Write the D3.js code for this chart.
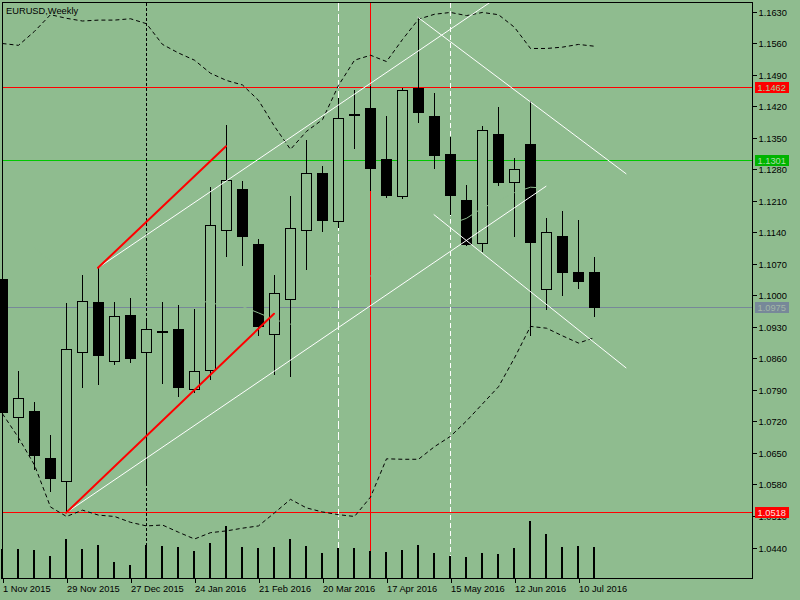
<!DOCTYPE html>
<html><head><meta charset="utf-8">
<script src="https://cdn.jsdelivr.net/npm/d3@7"></script>
<style>
html,body{margin:0;padding:0;background:#8FBC8F;}
svg{display:block;}
text{font-family:"Liberation Sans",Arial,sans-serif;font-size:9.3px;fill:#000;}
</style>
</head><body>
<svg id="chart" width="800" height="600"></svg>
<script>
// ---------- DATA ----------
const symbolTitle = "EURUSD,Weekly";
const firstWeek = "2015-11-01";
const opens  = [1.1036,1.0730,1.0742,1.0639,1.0588,1.0873,1.0985,1.0855,1.0956,1.0873,1.0920,1.0926,1.0793,1.0833,1.1144,1.1236,1.1114,1.0915,1.0991,1.1145,1.1271,1.1164,1.1403,1.1416,1.1302,1.1220,1.1460,1.1398,1.1314,1.1211,1.1115,1.1358,1.1251,1.1336,1.1013,1.1131,1.1051,1.1051];
const highs  = [1.1045,1.0831,1.0764,1.0689,1.0982,1.1044,1.1062,1.0985,1.0993,1.0947,1.0986,1.0978,1.0969,1.1240,1.1378,1.1254,1.1126,1.1045,1.1220,1.1345,1.1286,1.1437,1.1456,1.1464,1.1397,1.1460,1.1618,1.1449,1.1352,1.1245,1.1376,1.1418,1.1305,1.1431,1.1171,1.1187,1.1167,1.1084];
const lows   = [1.0735,1.0674,1.0615,1.0565,1.0518,1.0796,1.0802,1.0847,1.0852,1.0584,1.0806,1.0776,1.0785,1.0815,1.1088,1.1068,1.0912,1.0826,1.0821,1.1058,1.1143,1.1152,1.1328,1.1233,1.1219,1.1216,1.1385,1.1283,1.1180,1.1111,1.1099,1.1245,1.1132,1.0911,1.0969,1.1000,1.1016,1.0954];
const closes = [1.0741,1.0773,1.0645,1.0594,1.0880,1.0988,1.0867,1.0953,1.0861,1.0926,1.0918,1.0797,1.0831,1.1157,1.1256,1.1132,1.0932,1.1006,1.1149,1.1271,1.1168,1.1393,1.1401,1.1283,1.1223,1.1455,1.1406,1.1312,1.1223,1.1114,1.1366,1.1252,1.1280,1.1119,1.1140,1.1051,1.1032,1.0975];
const volumes = [60000,60000,58000,46000,80000,60000,68000,34000,28000,68000,66000,64000,56000,72000,106000,64000,62000,64000,80000,66000,52000,62000,62000,56000,54000,58000,68000,52000,46000,44000,52000,50000,62000,116000,90000,64000,66000,64000];
const bbUpper = [1.1560,1.1556,1.1587,1.1624,1.1616,1.1610,1.1612,1.1612,1.1615,1.1604,1.1558,1.1539,1.1523,1.1494,1.1478,1.1468,1.1434,1.1376,1.1325,1.1365,1.1391,1.1467,1.1523,1.1534,1.1520,1.1569,1.1614,1.1625,1.1629,1.1622,1.1629,1.1624,1.1596,1.1549,1.1549,1.1552,1.1558,1.1554];
const bbMiddle = [1.1149,1.1121,1.1106,1.1078,1.1063,1.1067,1.1063,1.1061,1.1056,1.1047,1.1025,1.1007,1.0992,1.0984,1.0978,1.0976,1.0962,1.0947,1.0937,1.0947,1.0956,1.0991,1.1017,1.1044,1.1079,1.1103,1.1126,1.1145,1.1159,1.1172,1.1195,1.1211,1.1229,1.1241,1.1239,1.1232,1.1227,1.1231];
const bbLower = [1.0738,1.0685,1.0624,1.0531,1.0510,1.0524,1.0513,1.0510,1.0497,1.0489,1.0491,1.0475,1.0460,1.0474,1.0478,1.0484,1.0489,1.0518,1.0548,1.0529,1.0520,1.0514,1.0510,1.0553,1.0638,1.0637,1.0637,1.0665,1.0688,1.0722,1.0760,1.0798,1.0862,1.0932,1.0928,1.0911,1.0895,1.0907];
const priceTicks = [1.1630,1.1560,1.1490,1.1420,1.1350,1.1280,1.1210,1.1140,1.1070,1.1000,1.0930,1.0860,1.0790,1.0720,1.0650,1.0580,1.0510,1.0440];
const dateTickLabels = ["1 Nov 2015","29 Nov 2015","27 Dec 2015","24 Jan 2016","21 Feb 2016","20 Mar 2016","17 Apr 2016","15 May 2016","12 Jun 2016","10 Jul 2016"];
const hLevels = [
  {price:1.1462, line:"#FF0000", box:"#FF0000", text:"#9FD29F"},
  {price:1.1301, line:"#00C800", box:"#00B400", text:"#A8E0A8"},
  {price:1.0975, line:"#778899", box:"#778899", text:"#A3B7A6"},
  {price:1.0518, line:"#FF0000", box:"#FF0000", text:"#FFE0E0"}
];
const vLines = [
  {week:9,  color:"#000000", dash:"3,2"},
  {week:21, color:"#FFFFFF", dash:"8,3"},
  {week:23, color:"#FF0000", dash:null},
  {week:28, color:"#FFFFFF", dash:"5,3"}
];
const trendLines = [
  {a:[6,1.1062],  b:[24,1.1495], color:"#FFFFFF", width:1, ray:true},
  {a:[4,1.0518],  b:[34,1.1243], color:"#FFFFFF", width:1, ray:false},
  {a:[26,1.1618], b:[39,1.1271], color:"#FFFFFF", width:1, ray:false},
  {a:[27,1.1180], b:[39,1.0840], color:"#FFFFFF", width:1, ray:false},
  {a:[4,1.0518],  b:[17,1.0960], color:"#FF0000", width:2, ray:false},
  {a:[6,1.1062],  b:[14,1.1332], color:"#FF0000", width:2, ray:false}
];

// ---------- SETUP ----------
const BG = "#8FBC8F";
const svg = d3.select("#chart");
const plot = {left:2.5, top:2.5, right:752.5, bottom:578.5};
const start = new Date(firstWeek + "T00:00:00Z");
const weekDate = i => d3.utcWeek.offset(start, i);
const dates = opens.map((_, i) => weekDate(i));

const x = d3.scaleUtc().domain([weekDate(0), weekDate(37)]).range([2, 594]);
const y = d3.scaleLinear().domain([1.0440, 1.1630]).range([548, 12]);
const vScale = d3.scaleLinear().domain([0, 120000]).range([579, 519]);
const px = v => Math.floor(v) + 0.5;
const rowOf = v => Math.floor(v);

svg.append("rect").attr("width",800).attr("height",600).attr("fill",BG);
svg.append("defs").append("clipPath").attr("id","plotclip")
  .append("rect").attr("x",plot.left).attr("y",plot.top)
  .attr("width",plot.right-plot.left).attr("height",plot.bottom-plot.top);

// ---------- BACKGROUND OBJECTS ----------
const hG = svg.append("g").attr("shape-rendering","crispEdges");
hLevels.forEach(d=>{
  hG.append("rect").attr("x",2).attr("width",751)
    .attr("y",rowOf(y(d.price))).attr("height",1).attr("fill",d.line);
});
const vG = svg.append("g").attr("shape-rendering","crispEdges");
vLines.forEach(d=>{
  const xx = Math.round(x(weekDate(d.week))) + 0.5;
  const l = vG.append("line").attr("x1",xx).attr("x2",xx)
    .attr("y1",plot.top).attr("y2",plot.bottom)
    .attr("stroke",d.color).attr("stroke-width",1);
  if (d.dash) l.attr("stroke-dasharray",d.dash);
});

// ---------- VOLUMES ----------
svg.append("g").attr("shape-rendering","crispEdges").selectAll("rect").data(volumes).join("rect")
  .attr("x",(d,i)=>Math.round(x(dates[i]))-1)
  .attr("width",2)
  .attr("y",d=>Math.round(vScale(d)))
  .attr("height",d=>579-Math.round(vScale(d)))
  .attr("fill","#000");

// ---------- CANDLES ----------
const cg = svg.append("g").attr("shape-rendering","crispEdges");
opens.forEach((o,i)=>{
  const cx = Math.round(x(dates[i]));
  const c = closes[i];
  cg.append("rect").attr("x",cx).attr("width",1)
    .attr("y",rowOf(y(highs[i]))).attr("height",rowOf(y(lows[i]))-rowOf(y(highs[i]))+1)
    .attr("fill","#000");
  const y0 = px(y(Math.max(o,c))), y1 = px(y(Math.min(o,c)));
  const x0 = cx-4.5, x1 = cx+5.5;
  cg.append("path").attr("d",`M${x0},${y0}H${x1}V${y1}H${x0}Z`)
    .attr("fill", c < o ? "#000" : BG)
    .attr("stroke","#000").attr("stroke-width",1);
});

// ---------- BOLLINGER BANDS ----------
const bandLine = arr => d3.line().x((d,i)=>x(dates[i])+0.5).y(d=>y(d))(arr);
svg.append("path").attr("d",bandLine(bbMiddle)).attr("fill","none")
  .attr("stroke",BG).attr("stroke-width",1);
[bbUpper, bbLower].forEach(arr=>{
  svg.append("path").attr("d",bandLine(arr)).attr("fill","none")
    .attr("stroke","#000").attr("stroke-width",1).attr("stroke-dasharray","4,3");
});

// ---------- TREND LINES ----------
const tg = svg.append("g").attr("clip-path","url(#plotclip)");
trendLines.forEach(t=>{
  const xa = x(weekDate(t.a[0])), ya = y(t.a[1]);
  let xb = x(weekDate(t.b[0])), yb = y(t.b[1]);
  if (t.ray) { const k = 3; xb = xa + (xb-xa)*k; yb = ya + (yb-ya)*k; }
  tg.append("line").attr("x1",xa).attr("y1",ya).attr("x2",xb).attr("y2",yb)
    .attr("stroke",t.color).attr("stroke-width",t.width).attr("stroke-linecap","round");
});

// ---------- FRAME & AXES ----------
svg.append("rect").attr("x",plot.left).attr("y",plot.top)
  .attr("width",plot.right-plot.left).attr("height",plot.bottom-plot.top)
  .attr("fill","none").attr("stroke","#000").attr("stroke-width",1)
  .attr("shape-rendering","crispEdges");

const tickDates = dateTickLabels.map((_,k)=>weekDate(k*4));
const xAxis = svg.append("g").attr("transform",`translate(0.5,${plot.bottom})`)
  .call(d3.axisBottom(x).tickValues(tickDates)
    .tickFormat((d,k)=>dateTickLabels[k]).tickSize(4).tickPadding(3));
xAxis.select(".domain").remove();
xAxis.selectAll("line").attr("stroke","#000").attr("shape-rendering","crispEdges");
xAxis.selectAll("text").attr("text-anchor","start").attr("x",0)
  .style("font-family","'Liberation Sans',Arial,sans-serif").style("font-size","9.3px").attr("fill","#000");

const yAxis = svg.append("g").attr("transform",`translate(${plot.right},0)`)
  .call(d3.axisRight(y).tickValues(priceTicks).tickFormat(d3.format(".4f")).tickSize(4).tickPadding(2));
yAxis.select(".domain").remove();
yAxis.selectAll(".tick").attr("transform",d=>`translate(0,${px(y(d))})`);
yAxis.selectAll("line").attr("stroke","#000").attr("shape-rendering","crispEdges");
yAxis.selectAll("text").attr("dy","0.36em")
  .style("font-family","'Liberation Sans',Arial,sans-serif").style("font-size","9.3px").attr("fill","#000");

const lab = svg.append("g");
hLevels.forEach(h=>{
  const yy = rowOf(y(h.price)) + 0.5;
  lab.append("rect").attr("x",755).attr("y",Math.floor(yy-5.5)).attr("width",34).attr("height",11).attr("fill",h.box);
  lab.append("text").attr("x",757.5).attr("y",yy).attr("dy","0.36em")
    .style("fill",h.text).text(d3.format(".4f")(h.price));
});

svg.append("text").attr("x",6).attr("y",14).text(symbolTitle);
</script>
</body></html>
